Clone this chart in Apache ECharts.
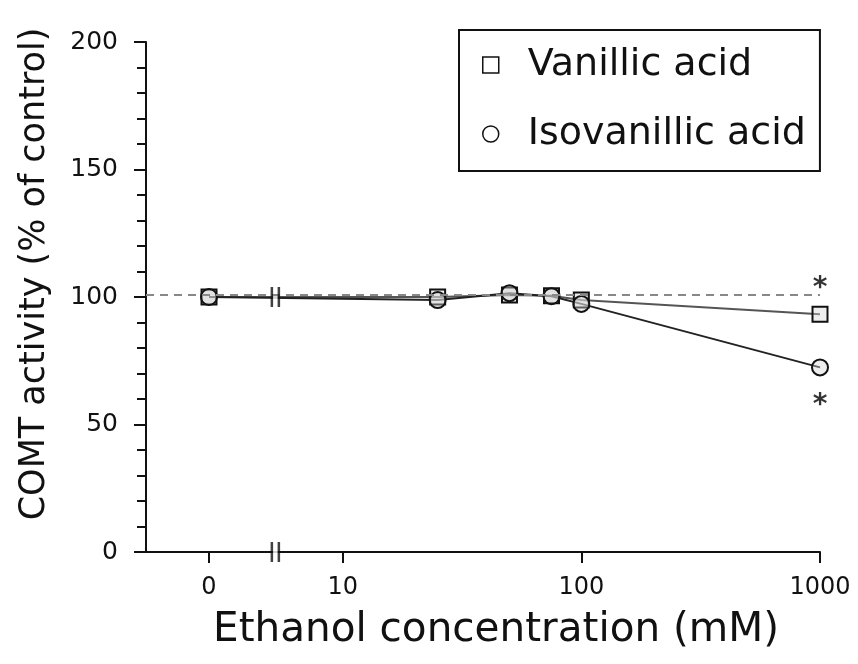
<!DOCTYPE html>
<html><head><meta charset="utf-8">
<script src="https://cdn.jsdelivr.net/npm/echarts@6/dist/echarts.min.js"></script>
<style>html,body{margin:0;background:#fff}#c{width:858px;height:664px}</style>
</head><body><div id="c"></div>
<script>
const concentrations = [0, 25, 50, 75, 100, 1000];
const vanillic = [100, 100, 100.8, 100.5, 98.8, 93.2];
const isovanillic = [100, 98.8, 101.5, 100.3, 97.3, 72.4];
const xTickConc = [0, 10, 100, 1000];
const xTickLabels = ['0', '10', '100', '1000'];
const controlLevel = 101;
const asterisks = [[1000, 105.6], [1000, 59.8]];
const breakLevels = [0, 100];
// axis layout (log10 units); 0 mM is placed left of the axis break
const ZERO_POS = 0.44, BREAK_POS = 0.718, X_MIN = 0.176, X_MAX = 3;
const pos = c => c === 0 ? ZERO_POS : Math.log10(c);

const FONT = 'DejaVu Sans';
const INK = '#111';
const chart = echarts.init(document.getElementById('c'));
const tickPos = xTickConc.map(pos);
chart.setOption({
  animation: false,
  backgroundColor: '#fff',
  grid: {left: 146, right: 38, top: 42, bottom: 112, containLabel: false, outerBoundsMode: 'none'},
  legend: {
    orient: 'vertical', left: 459, top: 30,
    itemWidth: 64, itemHeight: 16, itemGap: 27,
    padding: [14, 14, 16, 23],
    borderColor: INK, borderWidth: 2,
    selectedMode: false,
    textStyle: {fontFamily: FONT, fontSize: 38, lineHeight: 42, color: INK},
    data: [
      {name: 'Vanillic acid', icon: 'path://M0,0H10V10H0Z', itemStyle: {color: '#fff', borderColor: INK, borderWidth: 1.5}},
      {name: 'Isovanillic acid', icon: 'circle', itemStyle: {color: '#fff', borderColor: INK, borderWidth: 1.5}}
    ]
  },
  xAxis: {
    type: 'value', min: X_MIN, max: X_MAX,
    axisLine: {lineStyle: {color: INK, width: 2}},
    axisTick: {customValues: tickPos, length: 11, lineStyle: {color: INK, width: 2}},
    axisLabel: {
      customValues: tickPos, margin: 24,
      fontFamily: FONT, fontSize: 24, color: INK,
      formatter: v => {
        const i = tickPos.findIndex(p => Math.abs(p - v) < 1e-6);
        return i >= 0 ? xTickLabels[i] : '';
      }
    },
    splitLine: {show: false},
    name: 'Ethanol concentration (mM)', nameLocation: 'middle', nameGap: 58,
    nameTextStyle: {fontFamily: FONT, fontSize: 40.5, color: INK, padding: [0, 0, 0, 26]}
  },
  yAxis: {
    type: 'value', min: 0, max: 200, interval: 50,
    axisLine: {show: true, lineStyle: {color: INK, width: 2}},
    axisTick: {show: true, length: 12, lineStyle: {color: INK, width: 2}},
    minorTick: {show: true, splitNumber: 5, length: 9, lineStyle: {color: INK, width: 2}},
    axisLabel: {margin: 28, fontFamily: FONT, fontSize: 25, color: INK},
    splitLine: {show: false},
    name: 'COMT activity (% of control)', nameLocation: 'middle', nameGap: 94, nameRotate: 90,
    nameTextStyle: {fontFamily: FONT, fontSize: 35, color: INK, padding: [0, 0, 0, 46]}
  },
  series: [
    {
      name: 'Vanillic acid', type: 'line',
      data: concentrations.map((c, i) => [pos(c), vanillic[i]]),
      symbol: 'rect', symbolSize: 15,
      itemStyle: {color: 'rgba(210,210,210,0.4)', borderColor: INK, borderWidth: 2},
      lineStyle: {color: '#555', width: 2},
      emphasis: {disabled: true},
      markLine: {
        silent: true, symbol: 'none', label: {show: false},
        lineStyle: {color: '#888', width: 2, type: [8, 6]},
        data: [{yAxis: controlLevel}]
      }
    },
    {
      name: 'Isovanillic acid', type: 'line',
      data: concentrations.map((c, i) => [pos(c), isovanillic[i]]),
      symbol: 'circle', symbolSize: 16,
      itemStyle: {color: 'rgba(210,210,210,0.4)', borderColor: INK, borderWidth: 2},
      lineStyle: {color: '#222', width: 2},
      emphasis: {disabled: true}
    },
    {
      type: 'scatter', silent: true,
      data: asterisks.map(a => [pos(a[0]), a[1]]),
      symbolSize: 1, itemStyle: {color: 'rgba(0,0,0,0)'},
      label: {show: true, formatter: '*', position: 'inside', offset: [0, 6], fontFamily: FONT, fontWeight: 'bold', fontSize: 28, color: '#000'}
    },
    {
      type: 'scatter', silent: true, z: 4,
      data: breakLevels.map(v => [BREAK_POS, v]),
      symbol: 'rect', symbolSize: [5, 20], itemStyle: {color: '#fff'}
    },
    {
      type: 'scatter', silent: true, z: 5,
      data: breakLevels.map(v => [BREAK_POS, v]),
      symbol: 'path://M0,0H2.5V20H0Z M7,0H9.5V20H7Z', symbolSize: [9.5, 20], symbolKeepAspect: false,
      itemStyle: {color: INK}
    }
  ]
});
</script></body></html>
